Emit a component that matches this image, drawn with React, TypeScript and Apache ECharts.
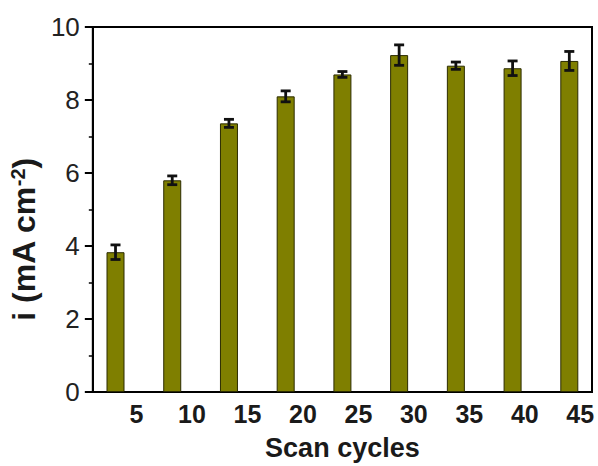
import React, { useEffect, useRef } from "react";
import * as echarts from "echarts";

const cycles = [5, 10, 15, 20, 25, 30, 35, 40, 45];
const cycleLabels = ["5", "10", "15", "20", "25", "30", "35", "40", "45"];
const currents = [3.83, 5.8, 7.36, 8.1, 8.7, 9.23, 8.94, 8.87, 9.07];
const errors = [0.2, 0.12, 0.11, 0.15, 0.08, 0.28, 0.1, 0.2, 0.26];

const FONT = "'Liberation Sans', Arial, sans-serif";

export default function App() {
  const ref = useRef<HTMLDivElement>(null);
  useEffect(() => {
    if (!ref.current) return;
    const chart = echarts.init(ref.current, undefined, { renderer: "svg" });
    const barData = cycles.map((c, i) => [c, currents[i]]);
    const errData = cycles.map((c, i) => [c, currents[i], errors[i]]);
    chart.setOption({
      animation: false,
      backgroundColor: "#fff",
      textStyle: { fontFamily: FONT },
      grid: {
        left: 87,
        right: 6,
        top: 27,
        bottom: 70,
        show: true,
        borderColor: "#000",
        borderWidth: 2,
        backgroundColor: "transparent",
      },
      xAxis: [
        {
          type: "category",
          position: "bottom",
          data: cycleLabels,
          boundaryGap: true,
          axisLine: { show: true, lineStyle: { color: "#000", width: 2 } },
          axisTick: { show: false },
          splitLine: { show: false },
          axisLabel: {
            fontSize: 25,
            fontWeight: "bold",
            color: "#1a1a1a",
            fontFamily: FONT,
            margin: 9,
            padding: [0, 0, 0, 32],
          },
          name: "Scan cycles",
          nameLocation: "middle",
          nameGap: 42,
          nameTextStyle: {
            fontSize: 27,
            fontWeight: "bold",
            color: "#1a1a1a",
            fontFamily: FONT,
          },
        },
        {
          type: "value",
          position: "top",
          min: 3,
          max: 47,
          show: false,
        },
      ],
      yAxis: {
        type: "value",
        min: 0,
        max: 10,
        interval: 2,
        axisLine: { show: true, lineStyle: { color: "#000", width: 2 } },
        axisTick: {
          show: true,
          inside: false,
          length: 8,
          lineStyle: { color: "#000", width: 2 },
        },
        minorTick: {
          show: true,
          splitNumber: 2,
          length: 4,
          lineStyle: { color: "#000", width: 1.5 },
        },
        splitLine: { show: false },
        axisLabel: {
          fontSize: 26,
          color: "#222",
          fontFamily: FONT,
          margin: 13,
        },
        name: "{n|i (mA cm}{s|-2}{n|)}",
        nameLocation: "middle",
        nameRotate: 90,
        nameGap: 38,
        nameTextStyle: {
          fontSize: 32,
          fontWeight: "bold",
          color: "#1a1a1a",
          fontFamily: FONT,
          padding: [0, 60, 0, 0],
          rich: {
            n: { fontSize: 32, fontWeight: "bold", color: "#1a1a1a", fontFamily: FONT },
            s: {
              fontSize: 20,
              fontWeight: "bold",
              color: "#1a1a1a",
              fontFamily: FONT,
              verticalAlign: "top",
              padding: [0, 0, 12, 0],
            },
          },
        },
      },
      series: [
        {
          type: "bar",
          xAxisIndex: 1,
          yAxisIndex: 0,
          data: barData,
          barWidth: 18,
          itemStyle: {
            color: "#7f7f00",
            borderColor: "#2b2b00",
            borderWidth: 1,
          },
          z: 2,
        },
        {
          type: "custom",
          xAxisIndex: 1,
          yAxisIndex: 0,
          data: errData,
          z: 5,
          renderItem: (params: any, api: any) => {
            const x = api.value(0);
            const y = api.value(1);
            const e = api.value(2);
            const top = api.coord([x, y + e]);
            const bot = api.coord([x, y - e]);
            const hw = 5;
            const style = { stroke: "#111", lineWidth: 2.8 };
            return {
              type: "group",
              children: [
                { type: "line", shape: { x1: top[0], y1: top[1], x2: bot[0], y2: bot[1] }, style },
                { type: "line", shape: { x1: top[0] - hw, y1: top[1], x2: top[0] + hw, y2: top[1] }, style },
                { type: "line", shape: { x1: bot[0] - hw, y1: bot[1], x2: bot[0] + hw, y2: bot[1] }, style },
              ],
            };
          },
        },
      ],
    });
    return () => chart.dispose();
  }, []);
  return (
    <div
      ref={ref}
      style={{ position: "fixed", left: 0, top: 0, width: 598, height: 466 }}
    />
  );
}
